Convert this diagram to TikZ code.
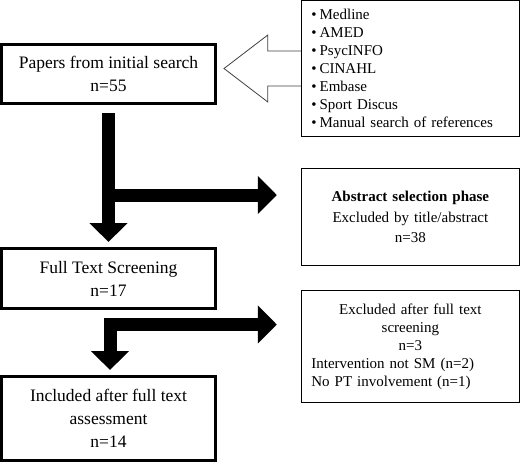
\documentclass[tikz,border=0pt]{standalone}
\usepackage{fontspec}
\setmainfont{Liberation Serif}
\usetikzlibrary{arrows.meta,positioning,calc}
\tikzset{mainbox/.style={ % Boxes of the left column
            draw,
            line width=3pt,
            minimum width=214pt,
            inner sep=0pt,
            align=center,
            font=\fontsize{17.5}{23}\selectfont},
        sidebox/.style={ % Boxes of the right column
            draw,
            line width=1.2pt,
            minimum width=218pt,
            inner xsep=10pt,
            text width=198pt,
            font=\fontsize{15}{18}\selectfont},
        flowarrow/.style={ % Thick black arrows between stages
            draw,
            line width=13pt,
            line join=miter,
            >={Triangle[width=37pt,length=19pt]}},
        hollowarrow/.style={ % Outlined arrow from the sources
            draw=black!75,
            line width=0.8pt}
        }

\begin{document}
\begin{tikzpicture}[x=1pt,y=-1pt]
    \useasboundingbox (0,0) rectangle (520,464);

    \node[mainbox, minimum height=59pt] (papers) at (108.5,74) {Papers from initial search\\n=55};
    \node[mainbox, minimum height=60pt] (full) [below=142pt of papers] {Full Text Screening\\n=17};
    \node[mainbox, minimum height=84pt] (included) [below=65pt of full] {Included after full text\\assessment\\n=14};

    \node[sidebox, minimum height=135.8pt, align=left] (sources) at (410.4,68.5) {\textbullet\hspace{3pt}Medline\\\textbullet\hspace{3pt}AMED\\\textbullet\hspace{3pt}PsycINFO\\\textbullet\hspace{3pt}CINAHL\\\textbullet\hspace{3pt}Embase\\\textbullet\hspace{3pt}Sport Discus\\\textbullet\hspace{3pt}Manual search of references};
    \node[sidebox, minimum height=97pt, align=center, font=\fontsize{15}{20.5}\selectfont] (abstract) [below=31pt of sources] {\textbf{Abstract selection phase}\\Excluded by title/abstract\\n=38};
    \node[sidebox, minimum height=112pt, align=center] (excluded) [below=24pt of abstract] {Excluded after full text\\screening\\n=3\\\makebox[198pt][l]{Intervention not SM (n=2)}\\\makebox[198pt][l]{No PT involvement (n=1)}};

    \draw[hollowarrow]
        ($(sources.west)+(0pt,17.5pt)$) -- ++(-33pt,0pt) -- ++(0pt,16pt)
        -- ($(sources.west -| papers.east)+(7pt,0pt)$)
        -- ($(sources.west)+(-33pt,-33.5pt)$) -- ++(0pt,16pt) -- ++(33pt,0pt);

    \coordinate (split) at ($(papers.south)+(0pt,-90pt)$);
    \coordinate (bend) at ($(full.south)+(1.5pt,-14.5pt)$);

    \draw[flowarrow,->] ($(papers.south)+(0pt,-8pt)$) -- ($(full.north)+(0pt,5pt)$);
    \draw[flowarrow,->] (split) -- ($(split -| abstract.west)+(-24pt,0pt)$);
    \draw[flowarrow,<->] ($(bend -| excluded.west)+(-24pt,0pt)$) -- (bend) -- ($(bend |- included.north)+(0pt,5pt)$);
\end{tikzpicture}
\end{document}
